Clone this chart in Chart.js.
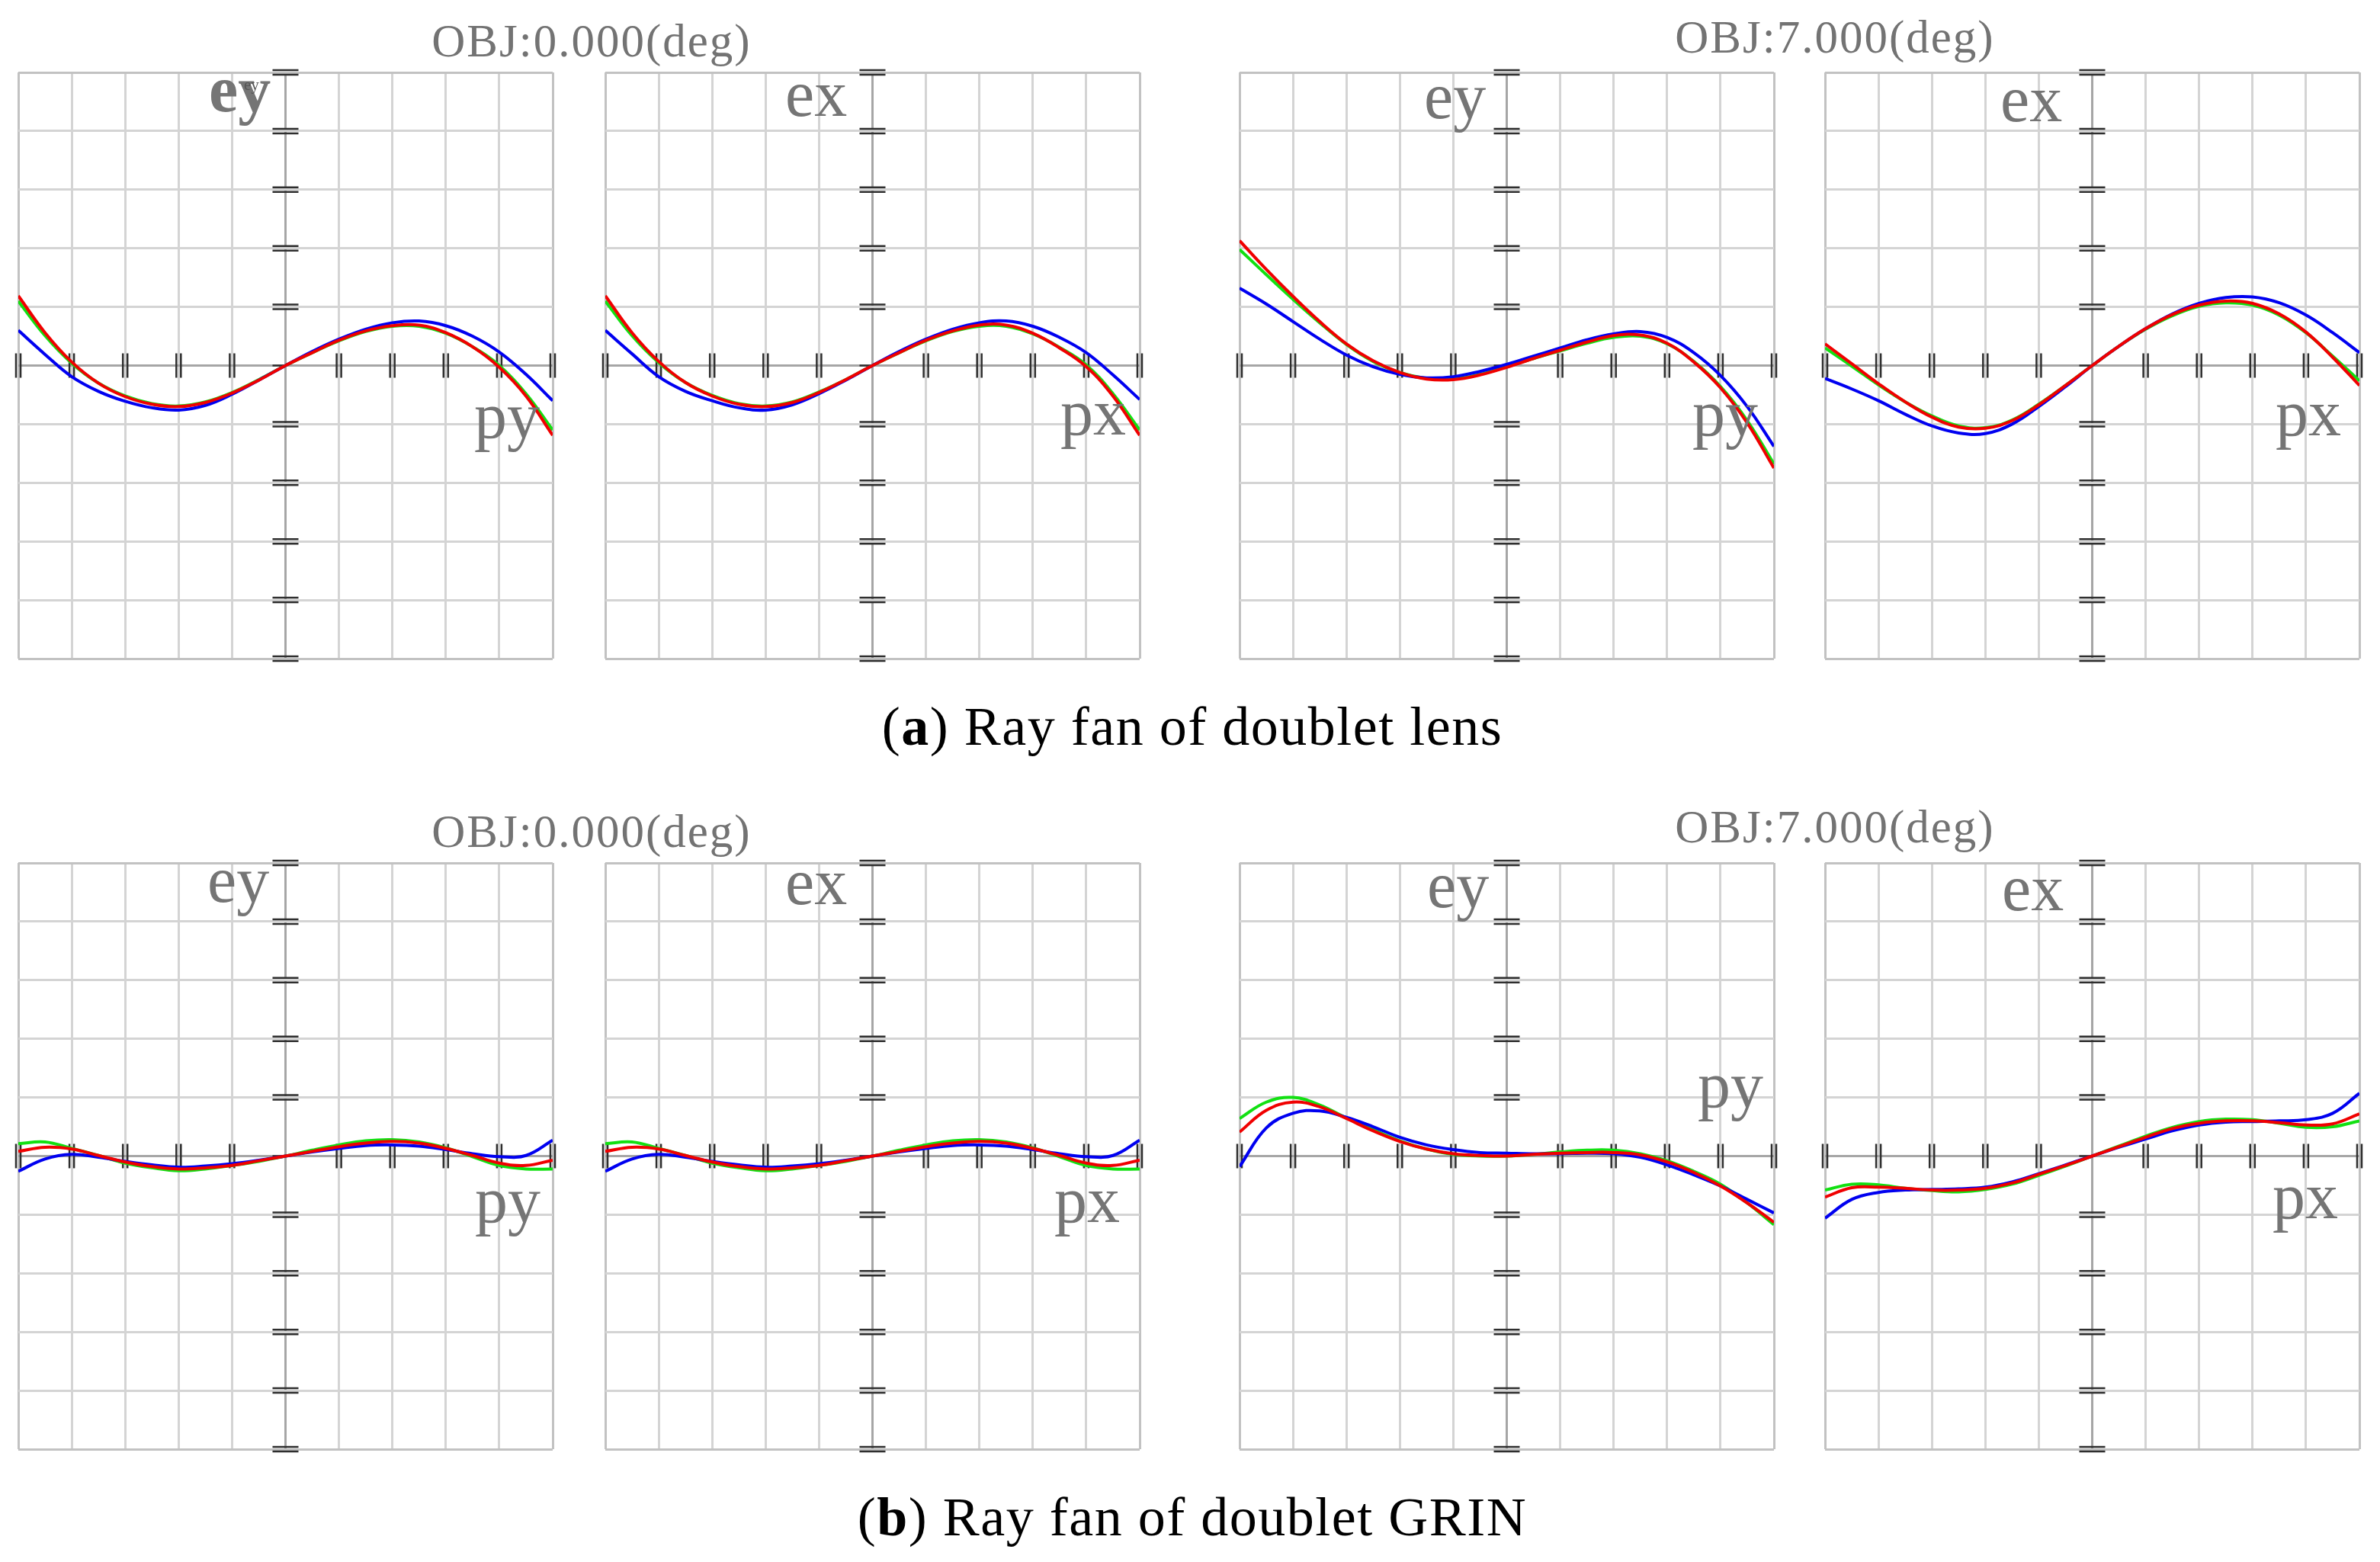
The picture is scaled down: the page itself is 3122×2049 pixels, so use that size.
<!DOCTYPE html>
<html>
<head>
<meta charset="utf-8">
<title>Ray fan</title>
<script src="https://cdn.jsdelivr.net/npm/chart.js@4.4.1/dist/chart.umd.min.js"></script>
<style>
  html, body { margin: 0; padding: 0; background: #fff; }
  body { width: 3122px; height: 2049px; position: relative; overflow: hidden; }
  canvas { position: absolute; }
  .txt { position: absolute; font-family: "Liberation Serif", serif; line-height: 1; white-space: nowrap; }
  .title { font-size: 61px; letter-spacing: 2px; color: #737373; transform: translateX(-50%); }
  .cap { font-size: 72px; letter-spacing: 1.5px; color: #000; transform: translateX(-50%); }
  .lab { font-size: 86px; color: #757575; }
</style>
</head>
<body>

<script>
// pupil coordinate (px / py), normalised
var pupil = [-1, -0.9, -0.8, -0.7, -0.6, -0.5, -0.4, -0.3, -0.2, -0.1, 0,
             0.1, 0.2, 0.3, 0.4, 0.5, 0.6, 0.7, 0.8, 0.9, 1];

// (a) doublet lens, OBJ 0 deg, tangential (ey)
var redLensEy0   = [1.19, 0.56, 0.06, -0.30, -0.53, -0.66, -0.70, -0.63, -0.47, -0.25, 0, 0.22, 0.43, 0.59, 0.68, 0.69, 0.56, 0.32, -0.03, -0.52, -1.19];
var greenLensEy0 = [1.10, 0.51, 0.04, -0.30, -0.52, -0.65, -0.69, -0.62, -0.46, -0.24, 0, 0.22, 0.42, 0.58, 0.67, 0.67, 0.55, 0.32, 0.00, -0.48, -1.10];
var blueLensEy0  = [0.60, 0.19, -0.19, -0.44, -0.61, -0.72, -0.76, -0.68, -0.49, -0.25, 0, 0.24, 0.45, 0.62, 0.73, 0.76, 0.68, 0.50, 0.23, -0.15, -0.60];
// (a) doublet lens, OBJ 0 deg, sagittal (ex)
var redLensEx0   = [1.19, 0.56, 0.07, -0.29, -0.52, -0.66, -0.70, -0.63, -0.46, -0.24, 0, 0.22, 0.43, 0.59, 0.69, 0.69, 0.55, 0.30, -0.02, -0.52, -1.19];
var greenLensEx0 = [1.10, 0.51, 0.05, -0.29, -0.51, -0.65, -0.69, -0.62, -0.45, -0.24, 0, 0.22, 0.42, 0.58, 0.67, 0.67, 0.54, 0.31, 0.01, -0.48, -1.10];
var blueLensEx0  = [0.60, 0.20, -0.19, -0.44, -0.60, -0.72, -0.76, -0.67, -0.48, -0.25, 0, 0.24, 0.45, 0.62, 0.73, 0.76, 0.67, 0.48, 0.22, -0.16, -0.58];
// (a) doublet lens, OBJ 7 deg
var redLensEy7   = [2.13, 1.64, 1.18, 0.75, 0.37, 0.08, -0.12, -0.23, -0.24, -0.16, -0.03, 0.12, 0.26, 0.40, 0.51, 0.52, 0.38, 0.06, -0.38, -0.98, -1.75];
var greenLensEy7 = [1.98, 1.55, 1.13, 0.73, 0.36, 0.07, -0.12, -0.22, -0.23, -0.15, -0.02, 0.12, 0.25, 0.38, 0.48, 0.50, 0.37, 0.07, -0.36, -0.94, -1.68];
var blueLensEy7  = [1.32, 1.05, 0.75, 0.45, 0.18, -0.02, -0.15, -0.21, -0.19, -0.10, 0.02, 0.16, 0.30, 0.44, 0.54, 0.58, 0.48, 0.22, -0.17, -0.70, -1.38];
var redLensEx7   = [0.37, 0.03, -0.31, -0.62, -0.88, -1.05, -1.07, -0.94, -0.67, -0.34, 0, 0.33, 0.63, 0.87, 1.03, 1.10, 1.06, 0.88, 0.57, 0.14, -0.34];
var greenLensEx7 = [0.30, -0.01, -0.33, -0.62, -0.86, -1.03, -1.06, -0.93, -0.66, -0.34, 0, 0.33, 0.62, 0.85, 1.01, 1.07, 1.03, 0.86, 0.56, 0.16, -0.26];
var blueLensEx7  = [-0.22, -0.40, -0.60, -0.83, -1.03, -1.15, -1.16, -1.00, -0.70, -0.36, 0, 0.33, 0.63, 0.88, 1.06, 1.16, 1.17, 1.07, 0.86, 0.56, 0.22];

// (b) doublet GRIN, OBJ 0 deg (ey and ex read the same)
var redGrin0   = [0.08, 0.15, 0.12, 0.01, -0.10, -0.18, -0.22, -0.20, -0.16, -0.08, 0, 0.08, 0.16, 0.22, 0.25, 0.22, 0.13, 0.01, -0.12, -0.16, -0.07];
var greenGrin0 = [0.21, 0.24, 0.13, 0.01, -0.12, -0.20, -0.25, -0.22, -0.16, -0.09, 0, 0.10, 0.19, 0.26, 0.28, 0.24, 0.14, -0.01, -0.16, -0.22, -0.22];
var blueGrin0  = [-0.26, -0.05, 0.03, -0.02, -0.09, -0.15, -0.19, -0.17, -0.13, -0.07, 0, 0.07, 0.13, 0.18, 0.19, 0.17, 0.11, 0.04, -0.01, 0.01, 0.27];
// (b) doublet GRIN, OBJ 7 deg
var redGrinEy7   = [0.41, 0.78, 0.92, 0.84, 0.64, 0.43, 0.25, 0.12, 0.04, 0.01, 0, 0.03, 0.05, 0.06, 0.06, 0.02, -0.10, -0.28, -0.51, -0.80, -1.13];
var greenGrinEy7 = [0.64, 0.92, 1.00, 0.87, 0.65, 0.45, 0.26, 0.12, 0.03, 0.00, 0, 0.03, 0.07, 0.10, 0.10, 0.04, -0.08, -0.26, -0.48, -0.80, -1.17];
var blueGrinEy7  = [-0.18, 0.48, 0.73, 0.77, 0.66, 0.50, 0.32, 0.19, 0.11, 0.06, 0.05, 0.04, 0.04, 0.05, 0.04, -0.02, -0.15, -0.32, -0.51, -0.74, -0.97];
var redGrinEx7   = [-0.70, -0.54, -0.53, -0.55, -0.58, -0.58, -0.55, -0.46, -0.31, -0.16, 0, 0.16, 0.32, 0.47, 0.56, 0.60, 0.60, 0.57, 0.53, 0.55, 0.72];
var greenGrinEx7 = [-0.58, -0.48, -0.49, -0.55, -0.59, -0.61, -0.57, -0.48, -0.33, -0.17, 0, 0.17, 0.34, 0.49, 0.59, 0.63, 0.62, 0.56, 0.49, 0.50, 0.60];
var blueGrinEx7  = [-1.06, -0.74, -0.62, -0.58, -0.57, -0.56, -0.53, -0.44, -0.30, -0.15, 0, 0.15, 0.29, 0.43, 0.53, 0.58, 0.59, 0.60, 0.62, 0.73, 1.07];

// plot ranges: 10 divisions each way
var xMin = -1, xMax = 1, xStep = 0.2;
var yMin = -5, yMax = 5, yStep = 1;

var PAD = 16, PW = 701, PH = 769;
var panels = [
  { left: 24,   top: 95,   red: redLensEy0, green: greenLensEy0, blue: blueLensEy0 },
  { left: 794,  top: 95,   red: redLensEx0, green: greenLensEx0, blue: blueLensEx0 },
  { left: 1626, top: 95,   red: redLensEy7, green: greenLensEy7, blue: blueLensEy7 },
  { left: 2394, top: 95,   red: redLensEx7, green: greenLensEx7, blue: blueLensEx7 },
  { left: 24,   top: 1132, red: redGrin0,   green: greenGrin0,   blue: blueGrin0 },
  { left: 794,  top: 1132, red: redGrin0,   green: greenGrin0,   blue: blueGrin0 },
  { left: 1626, top: 1132, red: redGrinEy7, green: greenGrinEy7, blue: blueGrinEy7 },
  { left: 2394, top: 1132, red: redGrinEx7, green: greenGrinEx7, blue: blueGrinEx7 }
];

function near(a, b) { return Math.abs(a - b) < 1e-6; }

function gridColor(v, lo, hi) {
  if (near(v, 0)) return '#a6a6a6';
  if (near(v, lo) || near(v, hi)) return '#c2c2c2';
  return '#d4d4d4';
}

// double tick marks along the two centre axes
var axisMarks = {
  id: 'axisMarks',
  beforeDatasetsDraw: function(chart) {
    var ctx = chart.ctx, x = chart.scales.x, y = chart.scales.y;
    var cx = x.getPixelForValue(0), cy = y.getPixelForValue(0);
    ctx.save();
    ctx.strokeStyle = '#2e2e2e';
    ctx.lineWidth = 2.5;
    ctx.beginPath();
    y.ticks.forEach(function(t) {
      var py = y.getPixelForValue(t.value);
      if (near(t.value, 0)) {
        ctx.moveTo(cx - 17, py); ctx.lineTo(cx, py);
        return;
      }
      ctx.moveTo(cx - 17, py - 3); ctx.lineTo(cx + 17, py - 3);
      ctx.moveTo(cx - 17, py + 3); ctx.lineTo(cx + 17, py + 3);
    });
    x.ticks.forEach(function(t) {
      if (near(t.value, 0)) return;
      var px = x.getPixelForValue(t.value);
      ctx.moveTo(px - 3, cy - 16); ctx.lineTo(px - 3, cy + 16);
      ctx.moveTo(px + 3, cy - 16); ctx.lineTo(px + 3, cy + 16);
    });
    ctx.stroke();
    ctx.restore();
  }
};

function series(vals, color) {
  return {
    data: pupil.map(function(p, i) { return { x: p, y: vals[i] }; }),
    borderColor: color,
    borderWidth: 4,
    pointRadius: 0,
    tension: 0.4,
    fill: false
  };
}

panels.forEach(function(p) {
  var cv = document.createElement('canvas');
  cv.width = PW + 2 * PAD;
  cv.height = PH + 2 * PAD;
  cv.style.left = (p.left - PAD) + 'px';
  cv.style.top = (p.top - PAD) + 'px';
  document.body.appendChild(cv);

  // first dataset is painted last, so red ends up on top
  new Chart(cv.getContext('2d'), {
    type: 'line',
    data: {
      datasets: [
        series(p.red, '#f00000'),
        series(p.blue, '#0000f0'),
        series(p.green, '#12e012')
      ]
    },
    options: {
      responsive: false,
      animation: false,
      devicePixelRatio: 1,
      events: [],
      layout: { padding: PAD },
      plugins: { legend: { display: false }, tooltip: { enabled: false } },
      scales: {
        x: {
          type: 'linear', min: xMin, max: xMax,
          ticks: { display: false, stepSize: xStep },
          border: { display: false },
          grid: {
            drawTicks: false,
            lineWidth: 3,
            color: function(c) { return gridColor(c.tick.value, xMin, xMax); }
          }
        },
        y: {
          type: 'linear', min: yMin, max: yMax,
          ticks: { display: false, stepSize: yStep },
          border: { display: false },
          grid: {
            drawTicks: false,
            lineWidth: 3,
            color: function(c) { return gridColor(c.tick.value, yMin, yMax); }
          }
        }
      }
    },
    plugins: [axisMarks]
  });
});
</script>

<!-- panel titles -->
<div class="txt title" style="left:776px; top:23px;">OBJ:0.000(deg)</div>
<div class="txt title" style="left:2407px; top:18px;">OBJ:7.000(deg)</div>
<div class="txt title" style="left:776px; top:1060px;">OBJ:0.000(deg)</div>
<div class="txt title" style="left:2407px; top:1054px;">OBJ:7.000(deg)</div>

<!-- axis names -->
<div class="txt lab" style="left:274px; top:74px; font-weight:bold;">ey</div>
<div class="txt" style="left:320px; top:101px; font-size:21px; color:#555;">ey</div>
<div class="txt lab" style="left:1030px; top:80px;">ex</div>
<div class="txt lab" style="left:1868px; top:83px;">ey</div>
<div class="txt lab" style="left:2624px; top:87px;">ex</div>
<div class="txt lab" style="left:622px; top:502px;">py</div>
<div class="txt lab" style="left:1391px; top:498px;">px</div>
<div class="txt lab" style="left:2220px; top:499px;">py</div>
<div class="txt lab" style="left:2985px; top:499px;">px</div>

<div class="txt lab" style="left:272px; top:1111px;">ey</div>
<div class="txt lab" style="left:1030px; top:1114px;">ex</div>
<div class="txt lab" style="left:1872px; top:1118px;">ey</div>
<div class="txt lab" style="left:2626px; top:1122px;">ex</div>
<div class="txt lab" style="left:623px; top:1531px;">py</div>
<div class="txt lab" style="left:1383px; top:1531px;">px</div>
<div class="txt lab" style="left:2227px; top:1380px;">py</div>
<div class="txt lab" style="left:2981px; top:1526px;">px</div>

<!-- captions -->
<div class="txt cap" style="left:1564px; top:917px;">(<b>a</b>) Ray fan of doublet lens</div>
<div class="txt cap" style="left:1564px; top:1954px;">(<b>b</b>) Ray fan of doublet GRIN</div>

</body>
</html>
